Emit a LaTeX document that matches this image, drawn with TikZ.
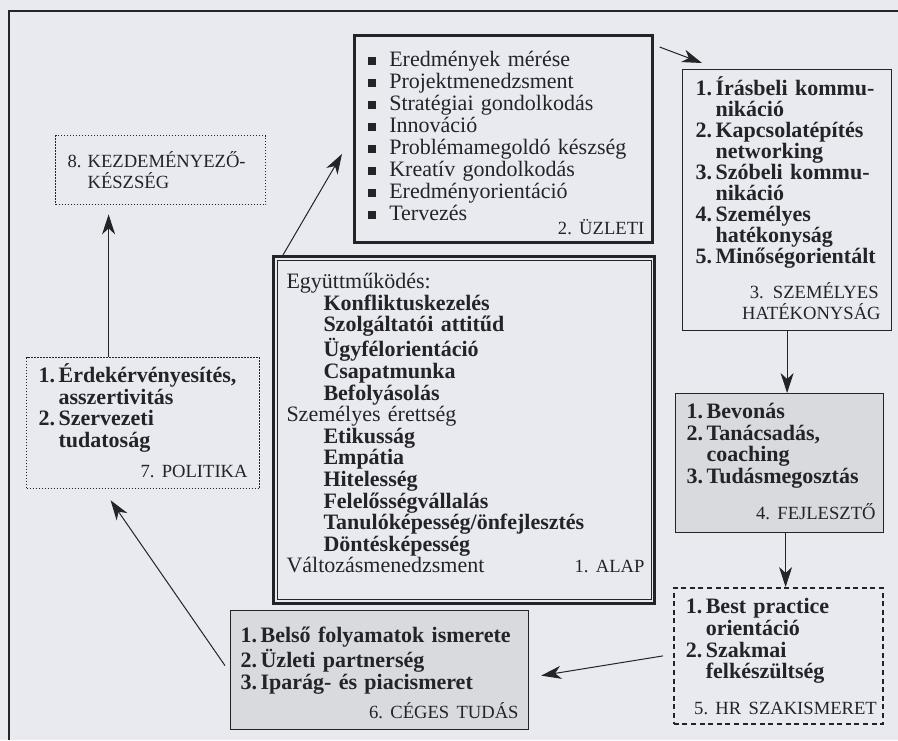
\documentclass[tikz,border=0pt]{standalone}
\usepackage{fontspec}
\setmainfont{Liberation Serif}
\usetikzlibrary{arrows.meta,positioning}
\frenchspacing

\definecolor{paper}{RGB}{233,234,240}
\definecolor{shade}{RGB}{217,218,222}
\definecolor{ink}{RGB}{35,35,40}

\newcommand\bodyfont{\fontsize{11}{10.8}\selectfont\hyphenpenalty=10000\relax}
\newcommand\tagfont{\mdseries\fontsize{9.3}{10.5}\selectfont}
\newcommand\num[1]{\makebox[10pt][l]{#1}}
\newcommand\cont{\hspace*{10pt}}
\newcommand\inset{\hspace*{18.5pt}}
\newcommand\sq{\rule[0.6pt]{4pt}{4pt}\hspace{6.5pt}}

\begin{document}
\begin{tikzpicture}[
    x=0.5pt, y=-0.5pt,
    >={Stealth[length=10pt,width=6.5pt,inset=3pt]},
    every node/.style={font=\bodyfont, text=ink},
    box/.style={draw=ink, line width=0.6pt, anchor=north west, align=left},
    dots/.style={box, dash pattern=on 0.6pt off 0.9pt},
    dashes/.style={box, line width=0.8pt, dash pattern=on 2.5pt off 1.8pt},
    grey/.style={box, fill=shade},
    link/.style={draw=ink, line width=0.5pt, ->}
]

% page
\fill[paper] (0,0) rectangle (898,740);
\useasboundingbox (0,0) rectangle (898,740);
\draw[ink, line width=0.8pt] (898,11) -- (9,11) -- (9,740);

% 2. Uzleti
\node[box, line width=1.3pt, text width=135pt, inner xsep=7pt, inner ysep=4pt, text height=11.5pt,
      font=\fontsize{11}{11}\selectfont] (uzleti) at (353,34)
  {\sq Eredmények mérése\\ \sq Projektmenedzsment\\ \sq Stratégiai gondolkodás\\ \sq Innováció\\
   \sq Problémamegoldó készség\\ \sq Kreatív gondolkodás\\ \sq Eredményorientáció\\ \sq Tervezés\\[-4pt]
   \hspace*{\fill}{\tagfont 2. ÜZLETI}\hspace*{-3pt}};

% 1. Alap (double frame)
\node[box, line width=1.5pt, text width=177.5pt, inner xsep=6.5pt, inner ysep=15pt, text height=1pt] (alap) at (272,255)
  {Együttműködés:\\
   \inset\textbf{Konfliktuskezelés}\\ \inset\textbf{Szolgáltatói attitűd}\\ \inset\textbf{Ügyfélorientáció}\\
   \inset\textbf{Csapatmunka}\\ \inset\textbf{Befolyásolás}\\
   Személyes érettség\\
   \inset\textbf{Etikusság}\\ \inset\textbf{Empátia}\\ \inset\textbf{Hitelesség}\\ \inset\textbf{Felelősségvállalás}\\
   \inset\textbf{Tanulóképesség/önfejlesztés}\\ \inset\textbf{Döntésképesség}\\
   Változásmenedzsment\hspace*{\fill}{\tagfont 1. ALAP}\hspace*{-1.5pt}};
\draw[ink, line width=0.5pt] ([shift={(5,5)}]alap.north west) rectangle ([shift={(-5,-5)}]alap.south east);

% 3. Szemelyes hatekonysag
\node[box, text width=91.5pt, inner xsep=6.5pt, inner ysep=5.75pt, text height=7.25pt,
      font=\bodyfont\fontsize{11}{10.5}\selectfont\bfseries] (szem) at (682,69)
  {\num{1.}Írásbeli kommu-\\ \cont nikáció\\ \num{2.}Kapcsolatépítés\\ \cont networking\\
   \num{3.}Szóbeli kommu-\\ \cont nikáció\\ \num{4.}Személyes\\ \cont hatékonyság\\ \num{5.}Minőségorientált\\[6.75pt]
   \hspace*{\fill}{\tagfont 3.\enspace SZEMÉLYES}\hspace*{-1pt}\\
   \hspace*{\fill}{\tagfont HATÉKONYSÁG}\hspace*{-1pt}};

% 4. Fejleszto
\node[grey, text width=93pt, inner xsep=5.5pt, inner ysep=6.75pt, text height=5.75pt, font=\bodyfont\bfseries] (fejl) at (675,393)
  {\num{1.}Bevonás\\ \num{2.}Tanácsadás,\\ \cont coaching\\ \num{3.}Tudásmegosztás\\[7pt]
   \hspace*{\fill}{\tagfont 4. FEJLESZTŐ}\hspace*{-1.5pt}};

% 5. HR szakismeret
\node[dashes, text width=92.5pt, inner xsep=6pt, inner ysep=4.75pt, text height=8.25pt, font=\bodyfont\bfseries] (hr) at (673,587)
  {\num{1.}Best practice\\ \cont orientáció\\ \num{2.}Szakmai\\ \cont felkészültség\\[7pt]
   \hspace*{\fill}\mbox{\tagfont 5. HR SZAKISMERET}\hspace*{-3pt}};

% 6. Ceges tudas
\node[grey, text width=139pt, inner xsep=5pt, inner ysep=5.25pt, text height=10.75pt, font=\bodyfont\bfseries] (ceg) at (230,610)
  {\num{1.}Belső folyamatok ismerete\\ \num{2.}Üzleti partnerség\\ \num{3.}Iparág- és piacismeret\\[4pt]
   \hspace*{\fill}{\tagfont 6. CÉGES TUDÁS}};

% 7. Politika
\node[dots, text width=104.5pt, inner xsep=6pt, inner ysep=5.25pt, text height=7.25pt, font=\bodyfont\bfseries] (pol) at (26,357)
  {\num{1.}Érdekérvényesítés,\\ \cont asszertivitás\\ \num{2.}Szervezeti\\ \cont tudatoság\\[4.45pt]
   \hspace*{\fill}{\tagfont 7. POLITIKA}};

% 8. Kezdemenyezokeszseg
\node[dots, text width=93pt, inner xsep=6pt, inner ysep=8.25pt, text height=7.5pt, font=\tagfont] (kezd) at (55,135)
  {\num{8.}KEZDEMÉNYEZŐ-\\ \cont KÉSZSÉG};

% the cycle
\draw[link] ([shift={(11,0)}]alap.north west) -- ([shift={(-11,15)}]uzleti.west);
\draw[link] ([shift={(6,13)}]uzleti.north east) -- ([shift={(20,-6)}]szem.north west);
\draw[link] (szem.south) -- (szem.south |- fejl.north);
\draw[link] ([xshift=3pt]fejl.south) -- ([xshift=3pt]fejl.south |- hr.north);
\draw[link] ([shift={(-10,0)}]hr.west) -- ([shift={(12,5.5)}]ceg.east);
\draw[link] ([shift={(-5,-4.5)}]ceg.west) -- ([shift={(-32.5,11)}]pol.south);
\draw[link, shorten >=4.5pt] ([xshift=-17.25pt]pol.north) -- ([xshift=-17.25pt]pol.north |- kezd.south);

\end{tikzpicture}
\end{document}
